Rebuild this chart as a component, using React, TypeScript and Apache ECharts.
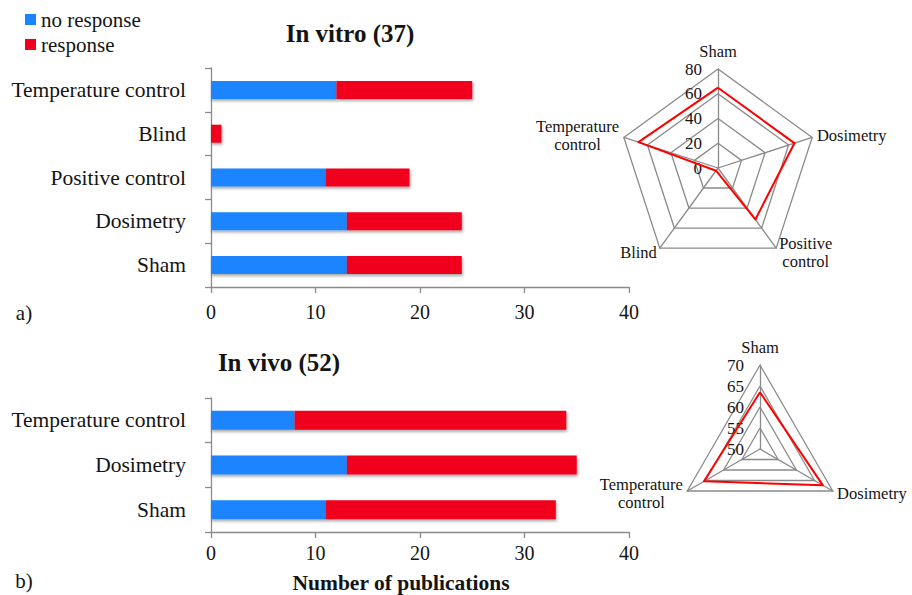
import React, { useEffect, useRef } from 'react';
import * as echarts from 'echarts';

const vitroCategories = ['Sham', 'Dosimetry', 'Positive control', 'Blind', 'Temperature control'];
const vitroNoResponse = [13, 13, 11, 0, 12];
const vitroResponse = [11, 11, 8, 1, 13];

const vivoCategories = ['Sham', 'Dosimetry', 'Temperature control'];
const vivoNoResponse = [11, 13, 8];
const vivoResponse = [22, 22, 26];

const vitroRadarIndicators = ['Sham', 'Temperature\ncontrol', 'Blind', 'Positive\ncontrol', 'Dosimetry'];
const vitroRadarValues = [64.9, 67.6, 2.7, 51.4, 64.9];
const vivoRadarIndicators = ['Sham', 'Temperature\ncontrol', 'Dosimetry'];
const vivoRadarValues = [63.5, 65.4, 67.3];

const FONT = 'Liberation Serif, Times New Roman, serif';
const TEXT = '#141414';
const AXIS = '#8a8a8a';
const BLUE = '#1A84FF';
const RED = '#F0001E';
const LINE_RED = '#FF0000';

const richText = (size: number) => ({
  formatter: (v: any) => `{c|${v}}`,
  rich: { c: { fontFamily: FONT, fontSize: size, color: TEXT } },
});

export default function App() {
  const ref = useRef<HTMLDivElement>(null);
  useEffect(() => {
    if (!ref.current) return;
    const chart = echarts.init(ref.current, undefined, { renderer: 'svg' });
    const axisLine = { show: true, lineStyle: { color: AXIS, width: 1.3 } };
    const axisTick = { show: true, length: 6, lineStyle: { color: AXIS, width: 1.3 } };
    const barShadow = {
      shadowColor: 'rgba(0,0,0,0.35)',
      shadowBlur: 3,
      shadowOffsetX: 1,
      shadowOffsetY: 2,
    };
    const nameFormatter = (v: string) =>
      v
        .split('\n')
        .map((s) => `{c|${s}}`)
        .join('\n');
    const radarCommon = {
      startAngle: 90,
      shape: 'polygon',
      splitNumber: 4,
      nameGap: 5,
      axisName: {
        color: TEXT,
        fontSize: 16.5,
        fontFamily: FONT,
        lineHeight: 18,
        formatter: nameFormatter,
        rich: { c: { align: 'center', fontSize: 16.5, fontFamily: FONT, color: TEXT, lineHeight: 18 } },
      },
      axisLine: { lineStyle: { color: AXIS, width: 1.3 } },
      splitLine: { lineStyle: { color: AXIS, width: 1.3 } },
      splitArea: { show: false },
      axisTick: { show: false },
      axisLabel: { show: false, fontSize: 17, color: TEXT, fontFamily: FONT, margin: 16, ...richText(17) },
    };
    const legendCommon = {
      orient: 'vertical',
      left: 25,
      padding: 0,
      itemWidth: 11,
      itemHeight: 11,
      formatter: (n: string) => `{c|${n}}`,
      textStyle: { fontSize: 21, color: TEXT, fontFamily: FONT, rich: { c: { fontFamily: FONT, fontSize: 21, color: TEXT } } },
    };
    const option: any = {
      animation: false,
      backgroundColor: '#ffffff',
      textStyle: { fontFamily: FONT, color: TEXT },
      legend: [
        { ...legendCommon, top: 9, data: [{ name: 'no response', icon: 'rect' }] },
        { ...legendCommon, top: 34, data: [{ name: 'response', icon: 'rect' }] },
      ],
      grid: [
        { left: 211, top: 68, width: 418, height: 219, outerBoundsMode: 'none', containLabel: false },
        { left: 211, top: 398, width: 418, height: 134, outerBoundsMode: 'none', containLabel: false },
      ],
      xAxis: [
        {
          gridIndex: 0,
          type: 'value',
          min: 0,
          max: 40,
          interval: 10,
          axisLine,
          axisTick,
          splitLine: { show: false },
          axisLabel: { fontSize: 20, color: TEXT, fontFamily: FONT, margin: 15, ...richText(20) },
        },
        {
          gridIndex: 1,
          type: 'value',
          min: 0,
          max: 40,
          interval: 10,
          axisLine,
          axisTick,
          splitLine: { show: false },
          axisLabel: { fontSize: 20, color: TEXT, fontFamily: FONT, margin: 11, ...richText(20) },
        },
      ],
      yAxis: [
        {
          gridIndex: 0,
          type: 'category',
          data: vitroCategories,
          axisLine,
          axisTick,
          axisLabel: { fontSize: 21.5, color: TEXT, fontFamily: FONT, margin: 25, ...richText(21.5) },
        },
        {
          gridIndex: 1,
          type: 'category',
          data: vivoCategories,
          axisLine,
          axisTick,
          axisLabel: { fontSize: 21.5, color: TEXT, fontFamily: FONT, margin: 25, ...richText(21.5) },
        },
      ],
      radar: [
        {
          ...radarCommon,
          center: [718, 168],
          radius: 99,
          indicator: vitroRadarIndicators.map((n, i) => ({
            name: n,
            min: 0,
            max: 80,
            ...(i === 0 ? { axisLabel: { show: true } } : {}),
          })),
        },
        {
          ...radarCommon,
          center: [760, 449],
          radius: 84,
          indicator: vivoRadarIndicators.map((n, i) => ({
            name: n,
            min: 50,
            max: 70,
            ...(i === 0 ? { axisLabel: { show: true } } : {}),
          })),
        },
      ],
      graphic: [
        { type: 'text', x: 350, y: 33, style: { text: 'In vitro (37)', font: `bold 25px ${FONT}`, fill: TEXT, textAlign: 'center', textVerticalAlign: 'middle' } },
        { type: 'text', x: 279, y: 362, style: { text: 'In vivo (52)', font: `bold 25px ${FONT}`, fill: TEXT, textAlign: 'center', textVerticalAlign: 'middle' } },
        { type: 'text', x: 401, y: 583, style: { text: 'Number of publications', font: `bold 21.5px ${FONT}`, fill: TEXT, textAlign: 'center', textVerticalAlign: 'middle' } },
        { type: 'text', x: 24, y: 313, style: { text: 'a)', font: `21px ${FONT}`, fill: TEXT, textAlign: 'center', textVerticalAlign: 'middle' } },
        { type: 'text', x: 24, y: 581, style: { text: 'b)', font: `21px ${FONT}`, fill: TEXT, textAlign: 'center', textVerticalAlign: 'middle' } },
      ],
      series: [
        { type: 'bar', name: 'no response', xAxisIndex: 0, yAxisIndex: 0, stack: 'vitro', barWidth: 18, data: vitroNoResponse, itemStyle: { color: BLUE, ...barShadow } },
        { type: 'bar', name: 'response', xAxisIndex: 0, yAxisIndex: 0, stack: 'vitro', barWidth: 18, data: vitroResponse, itemStyle: { color: RED, ...barShadow } },
        { type: 'bar', name: 'no response', xAxisIndex: 1, yAxisIndex: 1, stack: 'vivo', barWidth: 19, data: vivoNoResponse, itemStyle: { color: BLUE, ...barShadow } },
        { type: 'bar', name: 'response', xAxisIndex: 1, yAxisIndex: 1, stack: 'vivo', barWidth: 19, data: vivoResponse, itemStyle: { color: RED, ...barShadow } },
        { type: 'radar', radarIndex: 0, symbol: 'none', lineStyle: { color: LINE_RED, width: 2 }, data: [{ name: 'In vitro', value: vitroRadarValues }] },
        { type: 'radar', radarIndex: 1, symbol: 'none', lineStyle: { color: LINE_RED, width: 2 }, data: [{ name: 'In vivo', value: vivoRadarValues }] },
      ],
    };
    chart.setOption(option);
    return () => chart.dispose();
  }, []);
  return (
    <div
      ref={ref}
      style={{ position: 'absolute', left: 0, top: 0, width: 912, height: 595, background: '#fff' }}
    />
  );
}
